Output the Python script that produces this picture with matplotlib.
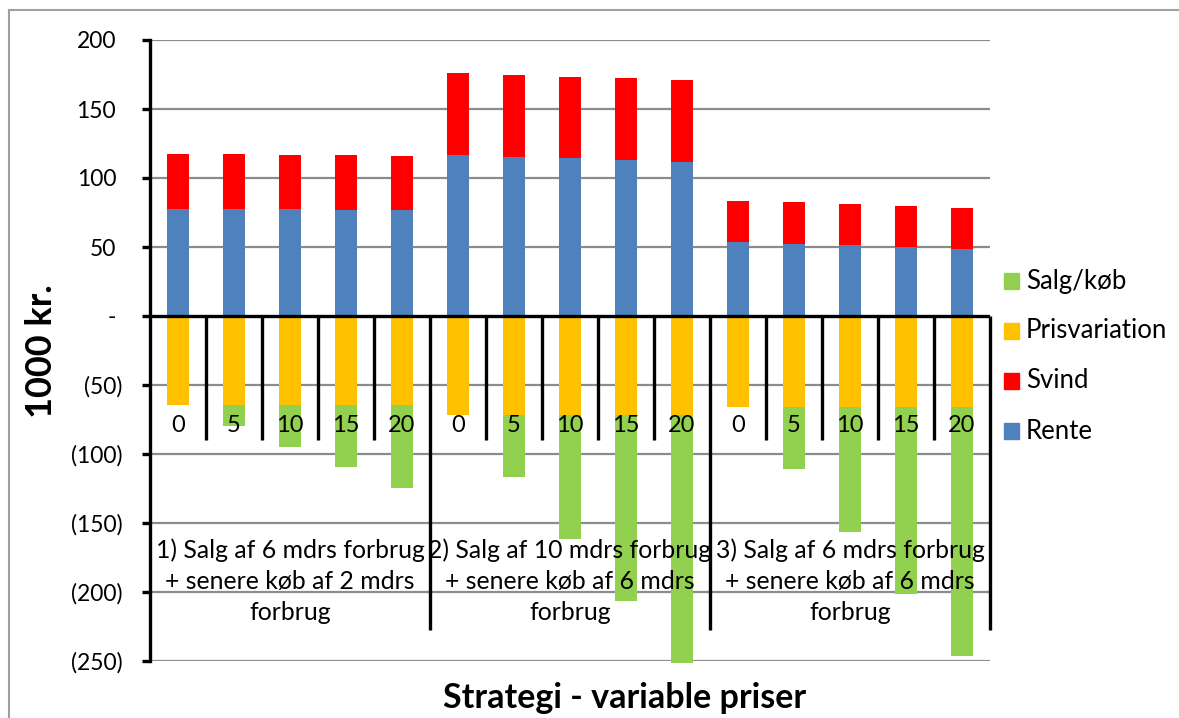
import matplotlib
matplotlib.use("Agg")
import matplotlib.pyplot as plt
from matplotlib.patches import Rectangle
from matplotlib.lines import Line2D
from matplotlib.transforms import ScaledTranslation

plt.rcParams['font.family'] = ['Lato', 'DejaVu Sans']

# ---- data (1000 kr.) ----
levels = ["0", "5", "10", "15", "20"] * 3
groups = [
    "1) Salg af 6 mdrs forbrug\n+ senere køb af 2 mdrs\nforbrug",
    "2) Salg af 10 mdrs forbrug\n+ senere køb af 6 mdrs\nforbrug",
    "3) Salg af 6 mdrs forbrug\n+ senere køb af 6 mdrs\nforbrug",
]
rente = [77.5, 77.5, 77.5, 77.1, 77.1,
         116.7, 115.5, 114.3, 113.0, 111.8,
         53.6, 52.4, 51.2, 49.8, 48.6]
svind = [39.6, 39.6, 39.2, 39.3, 39.1,
         59.1, 59.1, 59.1, 59.2, 59.2,
         30.0, 30.0, 30.0, 29.9, 29.9]
prisvariation = [-64.3, -64.7, -64.7, -64.7, -64.7,
                 -71.5, -71.5, -71.5, -71.5, -71.5,
                 -66.2, -66.2, -66.2, -66.2, -66.2]
salg_koeb = [0, -15, -30, -45, -60,
             0, -45, -90, -135, -180,
             0, -45, -90, -135, -180]
yticks = [200, 150, 100, 50, 0, -50, -100, -150, -200, -250]
ytick_labels = ["200", "150", "100", "50", "-", "(50)", "(100)", "(150)", "(200)", "(250)"]

series_names = ["Salg/køb", "Prisvariation", "Svind", "Rente"]
colors = {"Rente": "#4F81BD", "Svind": "#FF0000",
          "Prisvariation": "#FFC000", "Salg/køb": "#92D050"}

# ---- figure ----
W, H = 1179, 718
fig = plt.figure(figsize=(W / 100, H / 100), dpi=100)
L, R, T, B = 150, 990, 40, 661
ax = fig.add_axes([L / W, 1 - B / H, (R - L) / W, (B - T) / H])
ax.set_xlim(-0.5, 14.5)
ax.set_ylim(-250, 200)

def py(p):
    """pixel row -> data y"""
    return 200 - (p - T) * 450 / (B - T)

x = list(range(len(rente)))
bw = 0.4
ax.bar(x, rente, bw, color=colors["Rente"], zorder=3, clip_on=False)
ax.bar(x, svind, bw, bottom=rente, color=colors["Svind"], zorder=3, clip_on=False)
ax.bar(x, prisvariation, bw, color=colors["Prisvariation"], zorder=3, clip_on=False)
ax.bar(x, salg_koeb, bw, bottom=prisvariation, color=colors["Salg/køb"], zorder=3, clip_on=False)

# grid and axes
for yv in yticks:
    if yv != 0:
        ax.axhline(yv, color="#8C8C8C", lw=1.6, zorder=1)
ax.axhline(0, color="black", lw=2.4, zorder=4)
for s in ["top", "right", "bottom"]:
    ax.spines[s].set_visible(False)
ax.spines["left"].set_linewidth(2.4)
ax.spines["left"].set_zorder(5)

ax.set_yticks(yticks)
ax.set_yticklabels(ytick_labels)
ax.tick_params(axis="y", length=6, width=2.4, pad=14, labelsize=16.5)
for lab in ax.get_yticklabels():
    if not lab.get_text().startswith("("):
        lab.set_transform(lab.get_transform() + ScaledTranslation(-6 / 100, 0, fig.dpi_scale_trans))
ax.set_xticks([])

# multi-level category axis
n = len(levels)
for i in range(1, n + 1):
    xs = i - 0.5
    bottom = py(630) if i % 5 == 0 else py(440)
    ax.plot([xs, xs], [0, bottom], color="black", lw=2.4, zorder=4,
            solid_capstyle="butt", clip_on=False)
for i, lv in enumerate(levels):
    ax.text(i, py(425), lv, ha="center", va="center", fontsize=17, zorder=6)
for g, label in enumerate(groups):
    ax.text(g * 5 + 2, py(581), label, ha="center", va="center",
            fontsize=17.8, linespacing=1.42, zorder=6)

# axis titles
fig.text(41 / W, 1 - 351 / H, "1000 kr.", rotation=90, ha="center", va="center",
         fontsize=26, fontweight="bold")
fig.text(625 / W, 1 - 698 / H, "Strategi - variable priser", ha="center", va="center",
         fontsize=24.5, fontweight="bold")

# legend
for k, name in enumerate(series_names):
    cy = 281 + 50 * k
    fig.patches.append(Rectangle((1004 / W, 1 - (cy + 8) / H), 15 / W, 16 / H,
                                 transform=fig.transFigure, color=colors[name]))
    fig.text(1026 / W, 1 - cy / H, name, ha="left", va="center", fontsize=18.5)

# chart border (top and left edges)
fig.add_artist(Line2D([9 / W, 1], [1 - 10 / H, 1 - 10 / H], color="#A0A0A0", lw=1.5))
fig.add_artist(Line2D([9 / W, 9 / W], [0, 1 - 10 / H], color="#A0A0A0", lw=1.5))

fig.savefig("out.png", dpi=100)
